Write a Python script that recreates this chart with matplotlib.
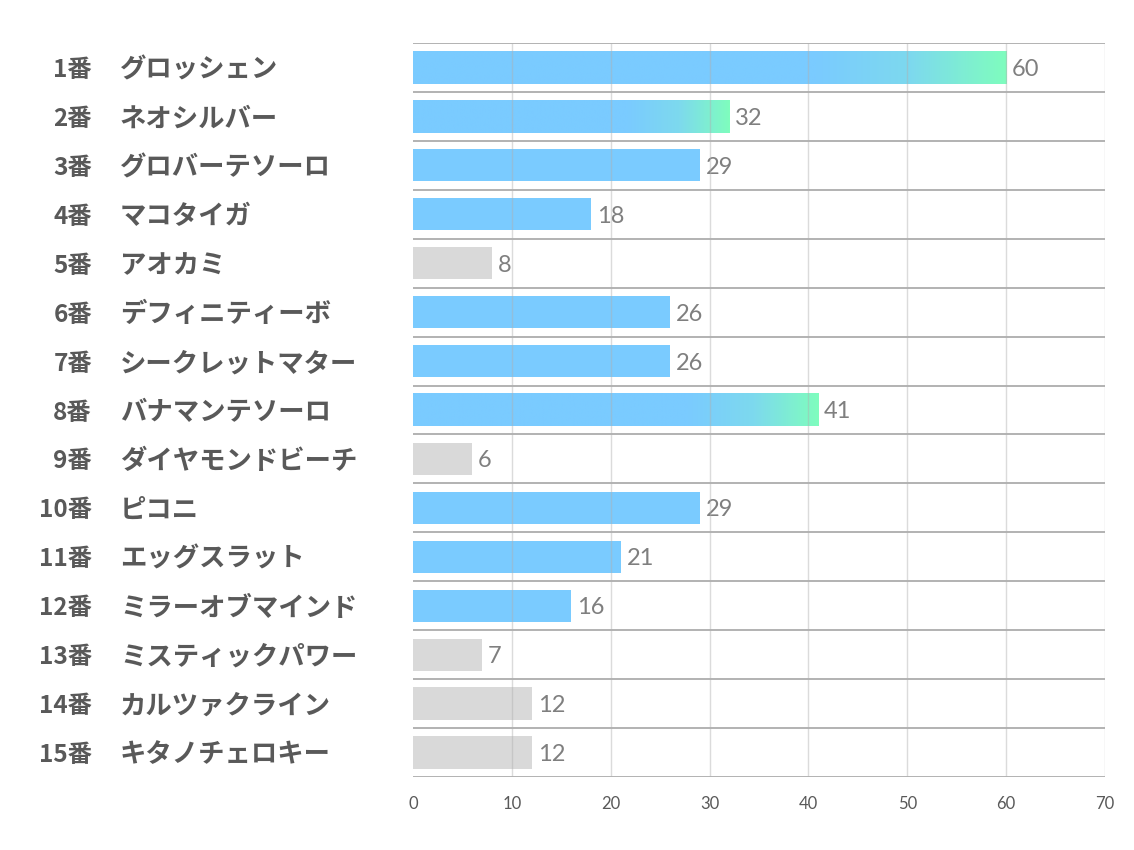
import matplotlib.pyplot as plt
import numpy as np
from matplotlib.colors import LinearSegmentedColormap

plt.rcParams['font.family'] = ['Noto Sans CJK JP', 'DejaVu Sans']

## Data
nums = ['1番', '2番', '3番', '4番', '5番', '6番', '7番', '8番', '9番', '10番',
        '11番', '12番', '13番', '14番', '15番']
names = ['グロッシェン', 'ネオシルバー', 'グロバーテソーロ', 'マコタイガ', 'アオカミ',
         'デフィニティーボ', 'シークレットマター', 'バナマンテソーロ', 'ダイヤモンドビーチ',
         'ピコニ', 'エッグスラット', 'ミラーオブマインド', 'ミスティックパワー',
         'カルツァクライン', 'キタノチェロキー']
values = [60, 32, 29, 18, 8, 26, 26, 41, 6, 29, 21, 16, 7, 12, 12]
kind = ['grad', 'grad', 'blue', 'blue', 'gray', 'blue', 'blue', 'grad', 'gray',
        'blue', 'blue', 'blue', 'gray', 'gray', 'gray']
ticks = [0, 10, 20, 30, 40, 50, 60, 70]

blue = '#7ACBFF'
green = '#7FFDBE'
gray = '#D9D9D9'
# flat blue for the first ~68% of the bar, then fade to green
cmap = LinearSegmentedColormap.from_list(
    'bg', [(0, blue), (0.68, blue), (0.84, '#7DD9EE'), (1, green)])

fig = plt.figure(figsize=(11.34, 8.5), dpi=100)
ax = fig.add_axes([413/1134, 1-777/850, 692/1134, 734/850])

n = len(values)
h = 0.66

for i, (v, k) in enumerate(zip(values, kind)):
    if k == 'gray':
        ax.barh(i, v, height=h, color=gray, zorder=2)
    elif k == 'blue':
        ax.barh(i, v, height=h, color=blue, zorder=2)
    else:
        grad = np.linspace(0, 1, 512).reshape(1, -1)
        ax.imshow(grad, cmap=cmap, extent=[0, v, i + h/2, i - h/2],
                  aspect='auto', zorder=2, interpolation='bilinear')
    ax.text(v + 0.6, i + 0.04, str(v), va='center', ha='left', fontsize=17,
            color='#7F7F7F', family=['Lato', 'DejaVu Sans'])

ax.set_xlim(0, 70)
ax.set_ylim(n - 0.5, -0.5)
ax.set_aspect('auto')

for b in np.arange(-0.5, n, 1):
    ax.axhline(b, color='#A6A6A6', lw=1.2, zorder=3)
for t in ticks[1:]:
    ax.axvline(t, color='#B0B0B0', lw=1, alpha=0.45, zorder=3)

for s in ax.spines.values():
    s.set_visible(False)

ax.set_xticks(ticks)
ax.set_xticklabels([str(t) for t in ticks], fontsize=12, color='#595959',
                   family=['Lato', 'DejaVu Sans'])
ax.tick_params(axis='x', length=0, pad=14)
ax.set_yticks([])

for i in range(n):
    yy = ax.transData.transform((0, i))[1] - 2.5
    fy = yy / 850
    fig.text(92/1134, fy, nums[i], ha='right', va='center', fontsize=17.5,
             fontweight='bold', color='#595959')
    fig.text(120/1134, fy, names[i], ha='left', va='center', fontsize=19,
             fontweight='bold', color='#595959')

plt.savefig('out.png', dpi=100)
